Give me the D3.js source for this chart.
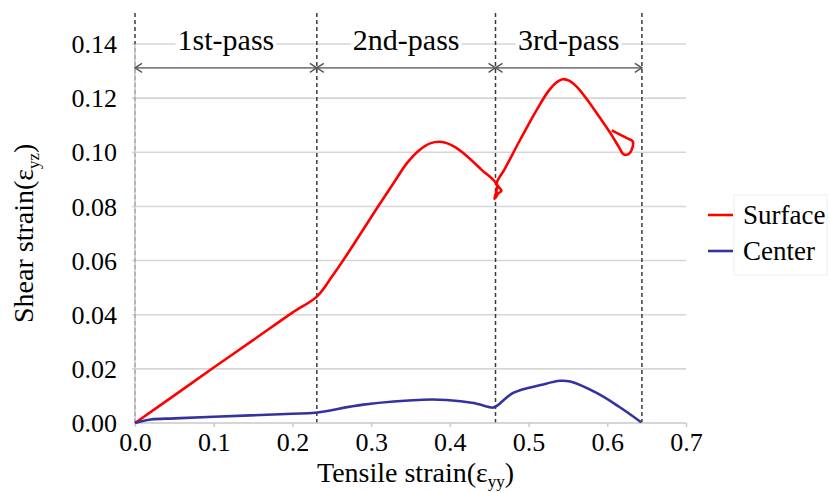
<!DOCTYPE html>
<html>
<head>
<meta charset="utf-8">
<script src="https://cdn.jsdelivr.net/npm/d3@7"></script>
<style>
  body { margin: 0; background: #fff; }
</style>
</head>
<body>
<div class="chart"></div>
<script>
// values
var xTicks = [0, 0.1, 0.2, 0.3, 0.4, 0.5, 0.6, 0.7];
var yTicks = [0, 0.02, 0.04, 0.06, 0.08, 0.10, 0.12, 0.14];

var passBounds = [0, 0.231, 0.458, 0.644];
var passLabels = ['1st-pass', '2nd-pass', '3rd-pass'];
var arrowLevel = 0.1312;

var surfaceX = [0, 0.05, 0.1, 0.15, 0.2, 0.231, 0.25, 0.27, 0.29, 0.31, 0.33, 0.345, 0.36, 0.375, 0.39, 0.405, 0.42, 0.44, 0.4596, 0.4568, 0.4615, 0.4655, 0.4620, 0.4595, 0.47, 0.49, 0.51, 0.525, 0.535, 0.543, 0.552, 0.562, 0.575, 0.59, 0.605, 0.615, 0.6205, 0.627, 0.631, 0.6323, 0.625, 0.6057];
var surfaceY = [0, 0.0102, 0.0205, 0.0306, 0.0408, 0.0467, 0.0540, 0.0625, 0.0715, 0.0805, 0.0893, 0.0958, 0.1005, 0.1033, 0.1038, 0.1022, 0.0990, 0.0936, 0.0880, 0.0828, 0.0848, 0.0858, 0.0872, 0.0885, 0.0940, 0.1050, 0.1155, 0.1225, 0.1257, 0.1270, 0.1264, 0.1240, 0.1192, 0.1130, 0.1066, 0.1018, 0.0993, 0.0993, 0.1009, 0.1040, 0.1052, 0.1081];

var centerX = [0, 0.02, 0.05, 0.1, 0.2, 0.229, 0.29, 0.366, 0.396, 0.43, 0.455, 0.459, 0.481, 0.515, 0.540, 0.553, 0.587, 0.615, 0.643];
var centerY = [0, 0.0013, 0.0017, 0.0023, 0.0034, 0.0038, 0.0068, 0.0086, 0.0085, 0.0074, 0.0057, 0.0062, 0.0112, 0.0140, 0.0156, 0.0153, 0.0110, 0.0060, 0.0003];

var seriesNames = ['Surface', 'Center'];
var seriesColors = ['#ff0000', '#33339f'];

var serif = '"Liberation Serif", "Times New Roman", "DejaVu Serif", serif';

var margin = {top: 44, right: 144, bottom: 69, left: 135},
    width = 830 - margin.left - margin.right,
    height = 492 - margin.top - margin.bottom;

var svg = d3.select('.chart').append('svg')
    .attr('width', 830)
    .attr('height', 492)
    .style('font-family', serif);

var g = svg.append('g')
    .attr('transform', 'translate(' + margin.left + ',' + margin.top + ')');

var x = d3.scaleLinear().domain([0, 0.7]).range([0, width]);
var y = d3.scaleLinear().domain([0, 0.14]).range([height, 0]);

// horizontal grid
g.selectAll('.grid')
    .data(yTicks.slice(1))
    .enter().append('line')
    .attr('class', 'grid')
    .attr('x1', -3)
    .attr('x2', width)
    .attr('y1', function(d) { return y(d); })
    .attr('y2', function(d) { return y(d); })
    .style('stroke', '#d6d6d6')
    .style('stroke-width', 1.6);

// y tick labels
g.selectAll('.ylab')
    .data(yTicks)
    .enter().append('text')
    .attr('class', 'ylab')
    .attr('x', -18)
    .attr('y', function(d) { return y(d); })
    .attr('dy', '0.35em')
    .attr('text-anchor', 'end')
    .style('font-family', serif)
    .style('font-size', '26px')
    .text(function(d) { return d3.format('.2f')(d); });

// x axis
var xAxis = g.append('g')
    .attr('transform', 'translate(0,' + height + ')')
    .call(d3.axisBottom(x).tickValues(xTicks).tickSize(4).tickFormat(d3.format('.1f')));
xAxis.attr('font-family', null).attr('font-size', null);
xAxis.select('.domain').remove();
xAxis.selectAll('.tick line').style('stroke', '#c8c8c8').style('stroke-width', 1.5);
xAxis.selectAll('.tick text')
    .attr('y', 10)
    .attr('dy', '0.71em')
    .style('font-family', serif)
    .style('font-size', '26px')
    .style('fill', '#000');

// pass boundaries
g.selectAll('.pass')
    .data(passBounds)
    .enter().append('line')
    .attr('class', 'pass')
    .attr('x1', function(d) { return x(d); })
    .attr('x2', function(d) { return x(d); })
    .attr('y1', -31)
    .attr('y2', height)
    .style('stroke', '#3a3a3a')
    .style('stroke-width', 1.5)
    .style('stroke-dasharray', '4,3');

// axis lines
g.append('line')
    .attr('x1', 0).attr('x2', width)
    .attr('y1', height).attr('y2', height)
    .style('stroke', '#c8c8c8').style('stroke-width', 1.6);
g.append('line')
    .attr('x1', 0).attr('x2', 0)
    .attr('y1', 0).attr('y2', height)
    .style('stroke', '#c8c8c8').style('stroke-width', 1.6);

// arrows
var defs = svg.append('defs');
defs.append('marker')
    .attr('id', 'chev')
    .attr('viewBox', '-1 -6 10 12')
    .attr('refX', 7)
    .attr('refY', 0)
    .attr('markerWidth', 10)
    .attr('markerHeight', 12)
    .attr('markerUnits', 'userSpaceOnUse')
    .attr('orient', 'auto-start-reverse')
    .append('path')
    .attr('d', 'M0,-4.5L7,0L0,4.5')
    .style('fill', 'none')
    .style('stroke', '#555')
    .style('stroke-width', 1.4);

var segs = passLabels.map(function(d, i) { return {label: d, a: passBounds[i], b: passBounds[i + 1]}; });

g.selectAll('.arrow')
    .data(segs)
    .enter().append('line')
    .attr('class', 'arrow')
    .attr('x1', function(d) { return x(d.a); })
    .attr('x2', function(d) { return x(d.b); })
    .attr('y1', y(arrowLevel))
    .attr('y2', y(arrowLevel))
    .attr('marker-start', 'url(#chev)')
    .attr('marker-end', 'url(#chev)')
    .style('stroke', '#808080')
    .style('stroke-width', 1.8);

var passText = g.selectAll('.passlab')
    .data(segs)
    .enter().append('g')
    .attr('class', 'passlab')
    .attr('transform', function(d) { return 'translate(' + x((d.a + d.b) / 2) + ',' + y(0.14) + ')'; });

passText.append('text')
    .attr('text-anchor', 'middle')
    .attr('dy', '0.2em')
    .style('font-family', serif)
    .style('font-size', '30px')
    .text(function(d) { return d.label; })
    .each(function() {
        var bb = this.getBBox();
        d3.select(this.parentNode).insert('rect', 'text')
            .attr('x', bb.x - 2)
            .attr('y', -3)
            .attr('width', bb.width + 4)
            .attr('height', 6)
            .style('fill', '#fff');
    });

// series
var line = d3.line()
    .x(function(d) { return x(d[0]); })
    .y(function(d) { return y(d[1]); })
    .curve(d3.curveCatmullRom.alpha(0.5));

var series = [d3.zip(surfaceX, surfaceY), d3.zip(centerX, centerY)];

g.selectAll('.series')
    .data(series)
    .enter().append('path')
    .attr('class', 'series')
    .attr('d', line)
    .style('fill', 'none')
    .style('stroke', function(d, i) { return seriesColors[i]; })
    .style('stroke-width', 2.6)
    .style('stroke-linejoin', 'round');

// axis titles
var xt = svg.append('text')
    .attr('x', 317)
    .attr('y', 482)
    .style('font-family', serif)
    .style('font-size', '28px');
xt.append('tspan').text('Tensile strain(ε');
xt.append('tspan').attr('dy', 5).style('font-size', '17px').text('yy');
xt.append('tspan').attr('dy', -5).text(')');

var yt = svg.append('text')
    .attr('transform', 'translate(33,323) rotate(-90)')
    .style('font-family', serif)
    .style('font-size', '28px');
yt.append('tspan').text('Shear strain(ε');
yt.append('tspan').attr('dy', 6).style('font-size', '17px').text('yz');
yt.append('tspan').attr('dy', -6).text(')');

// legend
var legend = svg.append('g').attr('transform', 'translate(708,215)');
legend.append('rect')
    .attr('x', 26).attr('y', -20)
    .attr('width', 93).attr('height', 80)
    .style('fill', 'none')
    .style('stroke', '#eeeeee');
var li = legend.selectAll('.li')
    .data(seriesNames)
    .enter().append('g')
    .attr('class', 'li')
    .attr('transform', function(d, i) { return 'translate(0,' + i * 36 + ')'; });
li.append('line')
    .attr('x1', 0).attr('x2', 25)
    .style('stroke', function(d, i) { return seriesColors[i]; })
    .style('stroke-width', 2.6);
li.append('text')
    .attr('x', 35)
    .attr('dy', '0.35em')
    .style('font-family', serif)
    .style('font-size', '27px')
    .text(function(d) { return d; });
</script>
</body>
</html>
